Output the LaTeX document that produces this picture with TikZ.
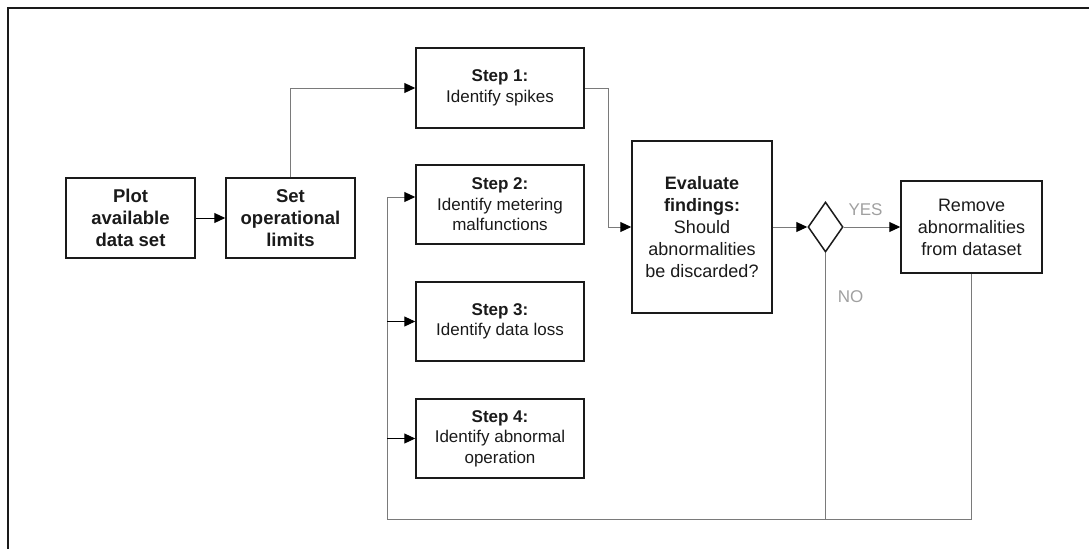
\documentclass[tikz,border=0pt]{standalone}
\usepackage{fontspec}
\setmainfont{Liberation Sans}
\usetikzlibrary{arrows.meta,shapes.geometric}
\definecolor{ink}{HTML}{1A1A1A}
\definecolor{wire}{HTML}{7A7A7A}
\definecolor{answer}{HTML}{A0A0A0}
\begin{document}
\begin{tikzpicture}[x=1pt,y=-1pt,
  box/.style={draw=ink,line width=1.5pt,rectangle,inner sep=0pt,align=center,text=ink},
  mainbox/.style={box,font=\fontsize{18}{22}\selectfont},
  stepbox/.style={box,minimum width=168pt,minimum height=79pt,font=\fontsize{17}{20.5}\selectfont},
  wireline/.style={draw=wire,line width=1pt},
  flow/.style={wireline,-{Triangle[length=11pt,width=10pt,color=black]}},
  answerlabel/.style={text=answer,font=\fontsize{17}{20}\selectfont,inner sep=0pt}]
  \useasboundingbox (0,0) rectangle (1089,549);
  % open frame along the top and left edges
  \draw[draw=ink,line width=1.8pt] (1089,8) -- (8,8) -- (8,549);

  % process boxes
  \node[mainbox,minimum width=129pt,minimum height=80pt,font=\bfseries\fontsize{18.5}{22}\selectfont] (plot) at (130.5,218) {Plot\\available\\data set};
  \node[mainbox,minimum width=129pt,minimum height=80pt,font=\bfseries\fontsize{18.5}{22}\selectfont] (limits) at (290.5,218) {Set\\operational\\limits};
  \node[stepbox,minimum height=80pt] (s1) at (500,88) {\textbf{Step 1:}\\Identify spikes};
  \node[stepbox] (s2) at (500,204.5) {\textbf{Step 2:}\\Identify metering\\malfunctions};
  \node[stepbox] (s3) at (500,321.5) {\textbf{Step 3:}\\Identify data loss};
  \node[stepbox] (s4) at (500,438.5) {\textbf{Step 4:}\\Identify abnormal\\operation};
  \node[mainbox,minimum width=140pt,minimum height=172pt] (eval) at (702,227) {\textbf{Evaluate}\\\textbf{findings:}\\Should\\abnormalities\\be discarded?};
  \node[draw=ink,line width=1.5pt,diamond,inner sep=0pt,minimum width=35pt,minimum height=50pt] (dec) at (825.5,227) {};
  \node[mainbox,minimum width=141pt,minimum height=92pt] (remove) at (971.5,227) {Remove\\abnormalities\\from dataset};

  % answers
  \node[answerlabel] (yes) at (865.5,210) {YES};
  \node[answerlabel] (no) at (850.5,297) {NO};

  % return bus feeding steps 2 to 4
  \coordinate (busB) at (387,519);
  \coordinate (busT) at (387,197);

  % connectors
  \draw[flow,draw=black] (plot.east) -- (limits.west);
  \draw[flow] (limits.north) |- (s1.west);
  \draw[flow] (s1.east) -- ++(24,0) |- (eval.west);
  \draw[flow] (eval.east) -- (dec.west);
  \draw[flow] (dec.east) -- (remove.west);
  \draw[wireline] (dec.south) |- (busB) -- (busT);
  \draw[wireline] (remove.south) |- (dec.south |- busB);
  \draw[flow] (busT) -- (s2.west |- busT);
  \draw[flow,draw=black] (busB |- s3.west) -- (s3.west);
  \draw[flow,draw=black] (busB |- s4.west) -- (s4.west);
\end{tikzpicture}
\end{document}
